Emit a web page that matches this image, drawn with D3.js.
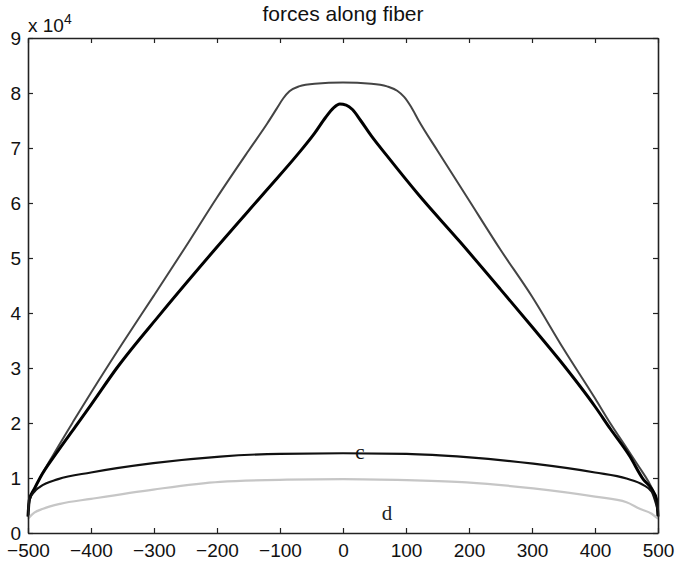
<!DOCTYPE html>
<html>
<head>
<meta charset="utf-8">
<script src="https://cdn.jsdelivr.net/npm/d3@7"></script>
<style>
  html, body { margin: 0; padding: 0; background: #fff; }
  svg { display: block; }
</style>
</head>
<body>
<svg id="chart" width="677" height="568"></svg>
<script>
// Position along the fiber (x) and force values (N) for each curve
const xOuter = [-500,-498,-490,-481,-460,-428,-400,-350,-300,-250,-200,-150,-120,-105,-95,-85,-70,-45,0,45,70,86,97,108,120,150,200,250,300,350,400,424,450,470,485,493,498,500];
const fOuter = [3000,6000,8000,10000,14200,20300,25500,34500,43200,52000,61000,69500,74500,77200,79000,80300,81200,81700,81900,81700,81200,80400,79300,77500,75000,69500,60500,51500,43000,33500,24500,20000,15500,12000,9300,7500,6000,3000];

const xInner = [-500,-498,-490,-481,-455,-425,-400,-359,-290,-200,-120,-73,-45,-28,-15,-5,5,15,28,45,69,120,186,250,300,344,400,424,455,477,490,498,500];
const fInner = [3000,6000,8000,10000,14500,19300,23300,30000,39800,52000,62500,68700,72700,75500,77300,78000,77800,77000,75000,72200,68700,61500,52900,44300,37500,31400,23000,19000,14000,9700,8000,6000,3000];

const xC = [-500,-497,-490,-481,-452,-400,-301,-195,-100,0,101,196,302,400,450,477,490,495,500];
const fC = [4000,6200,7500,8400,9800,11000,12700,13900,14400,14500,14400,13800,12600,11000,9900,8700,7500,6000,4000];

const xD = [-500,-490,-476,-449,-400,-301,-195,-89,0,101,196,302,400,450,471,490,500];
const fD = [2600,3700,4400,5300,6200,7900,9300,9700,9800,9600,9200,8100,6600,5600,4400,3500,2600];

const xTicks = [-500,-400,-300,-200,-100,0,100,200,300,400,500];
const yTicks = [0,10000,20000,30000,40000,50000,60000,70000,80000,90000];
const titleText = "forces along fiber";

const series = [
  { xs: xOuter, ys: fOuter, color: "#444444", width: 2 },
  { xs: xInner, ys: fInner, color: "#000000", width: 3 },
  { xs: xC, ys: fC, color: "#111111", width: 2.2 },
  { xs: xD, ys: fD, color: "#c6c6c6", width: 2.2 }
];

const svg = d3.select("#chart");
const m = { left: 28, right: 658, top: 38, bottom: 533 };

const x = d3.scaleLinear().domain([-500, 500]).range([m.left, m.right]);
const y = d3.scaleLinear().domain([0, 90000]).range([m.bottom, m.top]);

const font = "'Liberation Sans', Arial, Helvetica, sans-serif";

// Curves
const line = d3.line().x(d => x(d[0])).y(d => y(d[1])).curve(d3.curveMonotoneX);
series.forEach(s => {
  svg.append("path")
    .datum(d3.zip(s.xs, s.ys))
    .attr("fill", "none")
    .attr("stroke", s.color)
    .attr("stroke-width", s.width)
    .attr("stroke-linejoin", "round")
    .attr("d", line);
});

// Axes with inward ticks on all four sides
const fmtY = d => d3.format("d")(d / 10000);
const axB = svg.append("g").attr("transform", `translate(0,${m.bottom})`)
  .call(d3.axisBottom(x).tickValues(xTicks).tickSizeInner(-5).tickSizeOuter(0).tickPadding(11));
const axT = svg.append("g").attr("transform", `translate(0,${m.top})`)
  .call(d3.axisTop(x).tickValues(xTicks).tickSizeInner(-5).tickSizeOuter(0).tickFormat(""));
const axL = svg.append("g").attr("transform", `translate(${m.left},0)`)
  .call(d3.axisLeft(y).tickValues(yTicks).tickFormat(fmtY).tickSizeInner(-5).tickSizeOuter(0).tickPadding(7));
const axR = svg.append("g").attr("transform", `translate(${m.right},0)`)
  .call(d3.axisRight(y).tickValues(yTicks).tickSizeInner(-5).tickSizeOuter(0).tickFormat(""));

[axB, axT, axL, axR].forEach(g => {
  g.selectAll(".domain").attr("stroke", "#222").attr("stroke-width", 1.6);
  g.selectAll(".tick line").attr("stroke", "#222").attr("stroke-width", 1.2);
  g.selectAll("text").attr("font-family", font).attr("font-size", 19).attr("fill", "#111");
});

// Exponent label
const expo = svg.append("text")
  .attr("x", 28).attr("y", 32)
  .attr("font-family", font).attr("font-size", 19).attr("fill", "#111");
expo.append("tspan").text("x 10");
expo.append("tspan").attr("font-size", 14).attr("dy", -8).text("4");

// Title
svg.append("text")
  .attr("x", (m.left + m.right) / 2).attr("y", 21)
  .attr("text-anchor", "middle")
  .attr("font-family", font).attr("font-size", 21).attr("fill", "#111")
  .text(titleText);

// Curve labels
const serif = "'Liberation Serif', 'Times New Roman', serif";
svg.append("text").attr("x", x(27)).attr("y", y(14500) + 6)
  .attr("text-anchor", "middle").attr("font-family", serif).attr("font-size", 21).attr("fill", "#111")
  .text("c");
svg.append("text").attr("x", x(70)).attr("y", 520)
  .attr("text-anchor", "middle").attr("font-family", serif).attr("font-size", 21).attr("fill", "#222")
  .text("d");
</script>
</body>
</html>
